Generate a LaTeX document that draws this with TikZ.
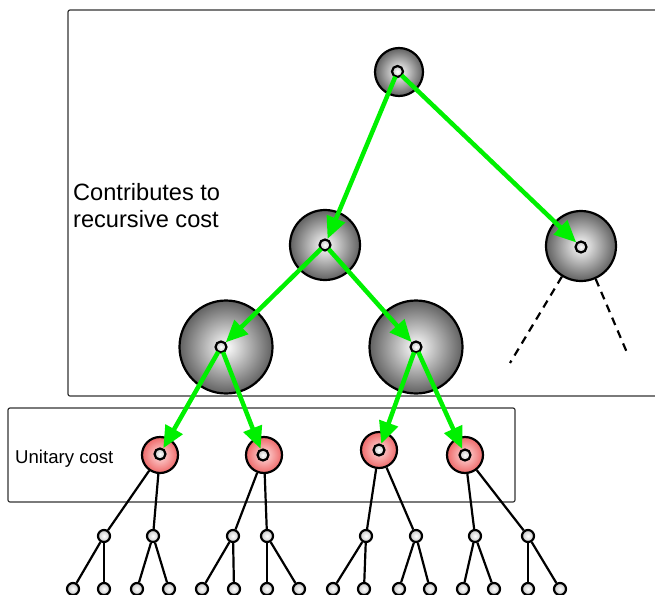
\documentclass[tikz,border=0pt]{standalone}
\usepackage{fontspec}
\setmainfont{Liberation Sans}
\usetikzlibrary{arrows.meta}
\definecolor{brightgreen}{RGB}{0,240,0}
\definecolor{redout}{RGB}{238,105,105}
\definecolor{redin}{RGB}{255,222,222}
\begin{document}
\begin{tikzpicture}[x=1pt,y=-1pt,
  bigball/.style={circle, draw=black, line width=2.2pt, inner color=white, outer color=black!62, inner sep=0pt, minimum size=#1},
  redball/.style={circle, draw=black, line width=2.2pt, inner color=redin, outer color=redout, inner sep=0pt, minimum size=36pt},
  dot/.style={circle, draw=black, line width=2.2pt, inner color=white, outer color=black!22, inner sep=0pt, minimum size=#1},
  dot/.default=11pt,
  garrow/.style={draw=brightgreen, line width=4.5pt, -{Triangle[length=22pt,width=19pt,fill=brightgreen]}, shorten <=-1pt},
  tline/.style={draw=black, line width=2.2pt},
  dline/.style={draw=black, line width=2.2pt, dash pattern=on 8pt off 6pt},
  frame/.style={draw=black!80, line width=1.2pt, rounded corners=2pt},
  lbl/.style={inner sep=0pt, anchor=base west}
]
\useasboundingbox (0,0) rectangle (655,594);
\clip (0,0) rectangle (655,594);

% frames
\draw[frame] (68,10) rectangle (680,396);
\draw[frame] (8,408) rectangle (515,502);

% labels
\node[lbl, font=\fontsize{23.6}{27}\selectfont] (t1) at (73,200) {Contributes to};
\node[lbl, font=\fontsize{23.6}{27}\selectfont] (t2) at (73,227) {recursive cost};
\node[lbl, font=\fontsize{18.6}{22}\selectfont] (t3) at (15,463) {Unitary cost};

% big balls
\node[bigball=48pt] (B0) at (399,72) {};
\node[bigball=70pt] (B1) at (325,245) {};
\node[bigball=70pt] (B2) at (581,246) {};
\node[bigball=93pt] (B3) at (226,347) {};
\node[bigball=93pt] (B4) at (416,347) {};

% red balls
\node[redball] (R1) at (160,455) {};
\node[redball] (R2) at (264,455) {};
\node[redball] (R3) at (379,450) {};
\node[redball] (R4) at (465,455) {};

% inner dots
\node[dot] (s0) at (397.5,71.5) {};
\node[dot] (s1) at (325,245) {};
\node[dot] (s2) at (581,247) {};
\node[dot] (s3) at (221,347) {};
\node[dot] (s4) at (416,347) {};
\node[dot] (r1) at (160,454) {};
\node[dot] (r2) at (263,455) {};
\node[dot] (r3) at (379,450) {};
\node[dot] (r4) at (465,455) {};

% green arrows
\draw[garrow] (s0) -- (s1);
\draw[garrow] (s0) -- (s2);
\draw[garrow] (s1) -- (s3);
\draw[garrow] (s1) -- (s4);
\draw[garrow] (s3) -- (r1);
\draw[garrow] (s3) -- (r2);
\draw[garrow] (s4) -- (r3);
\draw[garrow] (s4) -- (r4);

% dashed continuation
\coordinate (d1) at (510,363);
\coordinate (d2) at (628,355);
\draw[dline] (B2.238) -- (d1);
\draw[dline] (B2.294) -- (d2);

% lower tree: mid nodes
\foreach \n/\x in {1/104,2/153,3/233,4/267,5/366,6/416,7/475,8/528}
  \node[dot=12pt] (m\n) at (\x,536) {};
% leaves
\foreach \n/\x in {1/73,2/104,3/137,4/169,5/202,6/234,7/267,8/299,9/333,10/364,11/399,12/430,13/463,14/494,15/528,16/560}
  \node[dot=12pt] (l\n) at (\x,589) {};

% edges red -> mid
\draw[tline] (R1) -- (m1);
\draw[tline] (R1) -- (m2);
\draw[tline] (R2) -- (m3);
\draw[tline] (R2) -- (m4);
\draw[tline] (R3) -- (m5);
\draw[tline] (R3) -- (m6);
\draw[tline] (R4) -- (m7);
\draw[tline] (R4) -- (m8);
% edges mid -> leaves
\draw[tline] (m1) -- (l1);  \draw[tline] (m1) -- (l2);
\draw[tline] (m2) -- (l3);  \draw[tline] (m2) -- (l4);
\draw[tline] (m3) -- (l5);  \draw[tline] (m3) -- (l6);
\draw[tline] (m4) -- (l7);  \draw[tline] (m4) -- (l8);
\draw[tline] (m5) -- (l9);  \draw[tline] (m5) -- (l10);
\draw[tline] (m6) -- (l11); \draw[tline] (m6) -- (l12);
\draw[tline] (m7) -- (l13); \draw[tline] (m7) -- (l14);
\draw[tline] (m8) -- (l15); \draw[tline] (m8) -- (l16);
\end{tikzpicture}
\end{document}
